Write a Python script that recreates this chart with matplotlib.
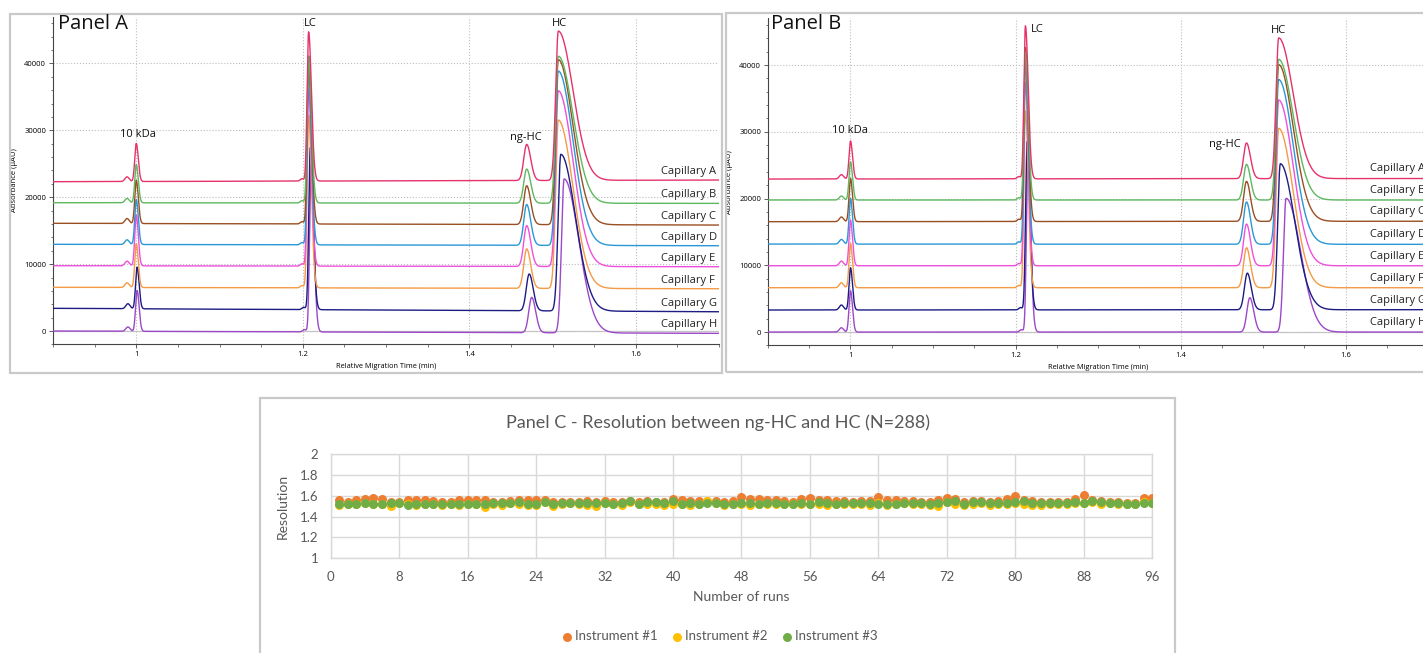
import numpy as np
import matplotlib
matplotlib.use('Agg')
import matplotlib.pyplot as plt
from matplotlib.patches import Rectangle
from matplotlib.ticker import MultipleLocator, FuncFormatter

# ---- data ----
capillaries = ['Capillary A', 'Capillary B', 'Capillary C', 'Capillary D',
               'Capillary E', 'Capillary F', 'Capillary G', 'Capillary H']
trace_colors = ['#E5336A', '#5DB85F', '#9A4F22', '#2A98D6',
                '#EE50DC', '#F59A45', '#1C1C84', '#9C48C8']

# Panel A: baseline (start / end) and peaks (position, height above baseline)
a_base_start = [22320, 19180, 16100, 12960, 9760, 6530, 3390, 0]
a_base_end = [22570, 19080, 15840, 12750, 9610, 6320, 2880, -350]
a_pre_pos = [0.989, 0.989, 0.989, 0.989, 0.989, 0.989, 0.990, 0.990]
a_pre_h = [700, 650, 750, 700, 700, 700, 750, 650]
a_kda_pos = [1.000, 1.000, 1.000, 1.000, 1.000, 1.000, 1.001, 1.001]
a_kda_h = [5700, 5730, 6480, 6730, 7600, 6580, 6230, 6130]
a_lc_pos = [1.207, 1.207, 1.207, 1.207, 1.207, 1.207, 1.209, 1.210]
a_lc_h = [22300, 21900, 25100, 26000, 26400, 25800, 24200, 25000]
a_nghc_pos = [1.469, 1.469, 1.469, 1.469, 1.469, 1.469, 1.472, 1.475]
a_nghc_h = [5400, 5100, 5800, 6100, 6100, 5900, 5500, 5280]
a_hc_pos = [1.507, 1.507, 1.507, 1.507, 1.507, 1.507, 1.510, 1.514]
a_hc_h = [22320, 21970, 24660, 26050, 26260, 25160, 23410, 23000]

# Panel B
b_base_start = [22920, 19780, 16530, 13180, 9930, 6640, 3300, 0]
b_base_end = [23000, 19780, 16600, 13140, 9930, 6640, 3350, 0]
b_pre_pos = [0.989, 0.989, 0.989, 0.989, 0.989, 0.989, 0.989, 0.989]
b_pre_h = [650, 600, 700, 700, 700, 750, 750, 650]
b_kda_pos = [1.000, 1.000, 1.000, 1.000, 1.000, 1.000, 1.000, 1.000]
b_kda_h = [5690, 5730, 6500, 6850, 6850, 6650, 6330, 6190]
b_lc_pos = [1.212, 1.212, 1.212, 1.212, 1.212, 1.212, 1.214, 1.215]
b_lc_h = [22920, 22200, 26060, 27160, 27420, 26470, 25210, 26000]
b_nghc_pos = [1.480, 1.480, 1.480, 1.480, 1.480, 1.480, 1.481, 1.484]
b_nghc_h = [5350, 5340, 5990, 6340, 6250, 5990, 5490, 5140]
b_hc_pos = [1.519, 1.519, 1.519, 1.519, 1.519, 1.519, 1.521, 1.528]
b_hc_h = [21080, 21070, 23470, 24680, 24830, 23880, 21870, 20030]
pre_lc_h = 350

# peak widths (left sigma, right sigma) in min
PRE_W = (0.0025, 0.0025)
KDA_W = (0.0018, 0.0024)
PRELC_W = (0.0020, 0.0020)
LC_W = (0.0018, 0.0034)
NGHC_W = (0.0035, 0.0048)
HC_W = (0.0032, 0.0175)

peak_labels = ['10 kDa', 'LC', 'ng-HC', 'HC']

# Panel C: resolution per run
runs = list(range(1, 97))
inst1 = [1.56, 1.54, 1.56, 1.57, 1.58, 1.57, 1.54, 1.54, 1.56, 1.56, 1.56, 1.55,
         1.54, 1.54, 1.56, 1.56, 1.56, 1.56, 1.54, 1.54, 1.55, 1.56, 1.56, 1.56,
         1.56, 1.54, 1.54, 1.54, 1.54, 1.55, 1.54, 1.55, 1.54, 1.54, 1.55, 1.54,
         1.55, 1.54, 1.54, 1.57, 1.56, 1.55, 1.55, 1.55, 1.55, 1.54, 1.55, 1.59,
         1.57, 1.57, 1.56, 1.56, 1.55, 1.54, 1.57, 1.58, 1.56, 1.56, 1.55, 1.55,
         1.54, 1.55, 1.55, 1.59, 1.56, 1.56, 1.55, 1.55, 1.54, 1.54, 1.56, 1.58,
         1.57, 1.54, 1.55, 1.55, 1.54, 1.55, 1.57, 1.60, 1.56, 1.55, 1.54, 1.54,
         1.54, 1.54, 1.57, 1.61, 1.56, 1.55, 1.54, 1.54, 1.53, 1.53, 1.58, 1.58]
inst2 = [1.51, 1.52, 1.52, 1.53, 1.52, 1.52, 1.50, 1.53, 1.52, 1.51, 1.52, 1.52,
         1.51, 1.52, 1.51, 1.52, 1.52, 1.49, 1.52, 1.51, 1.53, 1.52, 1.51, 1.51,
         1.54, 1.50, 1.52, 1.53, 1.52, 1.51, 1.50, 1.53, 1.52, 1.51, 1.54, 1.52,
         1.52, 1.52, 1.51, 1.52, 1.52, 1.51, 1.52, 1.55, 1.53, 1.51, 1.52, 1.52,
         1.51, 1.52, 1.52, 1.52, 1.52, 1.52, 1.52, 1.52, 1.52, 1.51, 1.52, 1.52,
         1.52, 1.52, 1.51, 1.53, 1.51, 1.52, 1.53, 1.52, 1.52, 1.51, 1.50, 1.54,
         1.52, 1.51, 1.52, 1.53, 1.51, 1.52, 1.52, 1.53, 1.52, 1.51, 1.51, 1.52,
         1.52, 1.52, 1.53, 1.53, 1.54, 1.52, 1.53, 1.52, 1.52, 1.52, 1.54, 1.53]
inst3 = [1.52, 1.52, 1.52, 1.53, 1.52, 1.52, 1.53, 1.53, 1.51, 1.52, 1.52, 1.52,
         1.52, 1.52, 1.52, 1.52, 1.52, 1.52, 1.53, 1.53, 1.53, 1.54, 1.52, 1.52,
         1.54, 1.52, 1.53, 1.53, 1.53, 1.53, 1.53, 1.53, 1.52, 1.53, 1.55, 1.52,
         1.54, 1.54, 1.53, 1.55, 1.52, 1.53, 1.52, 1.53, 1.53, 1.52, 1.52, 1.53,
         1.53, 1.52, 1.53, 1.53, 1.52, 1.52, 1.53, 1.52, 1.54, 1.53, 1.52, 1.53,
         1.53, 1.53, 1.53, 1.52, 1.52, 1.52, 1.53, 1.53, 1.53, 1.52, 1.53, 1.54,
         1.55, 1.52, 1.54, 1.54, 1.53, 1.53, 1.53, 1.54, 1.55, 1.53, 1.53, 1.53,
         1.53, 1.53, 1.54, 1.53, 1.55, 1.54, 1.53, 1.53, 1.52, 1.52, 1.53, 1.53]
instruments = ['Instrument #1', 'Instrument #2', 'Instrument #3']
inst_colors = ['#ED7D31', '#FFC000', '#70AD47']

# ---- layout helpers (pixel -> figure fraction) ----
W, H = 1423, 653


def fx(px):
    return px / W


def fy(py):
    return 1 - py / H


def trace(x, b0, b1, peaks):
    y = b0 + (b1 - b0) * (x - x[0]) / (x[-1] - x[0])
    for mu, h, (sl, sr) in peaks:
        s = np.where(x < mu, sl, sr)
        y = y + h * np.exp(-0.5 * ((x - mu) / s) ** 2)
    return y


TXT = ['Open Sans', 'DejaVu Sans']
CAL = ['Lato', 'DejaVu Sans']

fig = plt.figure(figsize=(14.23, 6.53), dpi=100)

# panel frames
for (x0, y0, x1, y1) in [(10, 14, 722, 373), (726, 13, 1440, 372), (260, 398, 1175, 670)]:
    fig.patches.append(Rectangle((fx(x0), fy(y1)), fx(x1 - x0), (y1 - y0) / H,
                                 transform=fig.transFigure, fill=False,
                                 ec='#C9C9C9', lw=1.6))

x = np.linspace(0.9, 1.7, 4001)


def electropherogram(ax, base0, base1, pre_pos, pre_h, kda_pos, kda_h, lc_pos, lc_h,
                     ng_pos, ng_h, hc_pos, hc_h, lab_off):
    ax.set_xlim(0.9, 1.7)
    ax.set_ylim(-2000, 47000)
    for i in reversed(range(8)):
        peaks = [(pre_pos[i], pre_h[i], PRE_W), (kda_pos[i], kda_h[i], KDA_W),
                 (lc_pos[i] - 0.008, pre_lc_h, PRELC_W),
                 (lc_pos[i], lc_h[i], LC_W), (ng_pos[i], ng_h[i], NGHC_W),
                 (hc_pos[i], hc_h[i], HC_W)]
        ax.plot(x, trace(x, base0[i], base1[i], peaks), color=trace_colors[i],
                lw=1.0, zorder=3)
        ax.text(1.630, base1[i] + lab_off, capillaries[i], fontsize=8, family=TXT,
                va='center', ha='left', color='#222222', zorder=4)
    ax.axhline(0, color='#C8C8C8', lw=0.9, zorder=1)
    ax.xaxis.set_major_locator(MultipleLocator(0.2))
    ax.xaxis.set_minor_locator(MultipleLocator(0.05))
    ax.yaxis.set_major_locator(MultipleLocator(10000))
    ax.yaxis.set_minor_locator(MultipleLocator(2000))
    ax.xaxis.set_major_formatter(FuncFormatter(lambda v, p: '%g' % round(v, 2)))
    ax.grid(True, which='major', ls=':', color='#BDBDBD', lw=0.8, zorder=0)
    for s in ['top', 'right']:
        ax.spines[s].set_visible(False)
    for s in ['left', 'bottom']:
        ax.spines[s].set_color('#444444')
        ax.spines[s].set_linewidth(0.8)
    ax.tick_params(which='major', length=3, width=0.6, color='#444444',
                   labelsize=5.5, pad=2)
    ax.tick_params(which='minor', length=1.8, width=0.5, color='#444444')
    for t in ax.get_xticklabels() + ax.get_yticklabels():
        t.set_family(TXT)
    ax.set_xlabel('Relative Migration Time (min)', fontsize=5.3, family=TXT, labelpad=3)
    ax.set_ylabel('Absorbance (µAU)', fontsize=5.5, family=TXT, labelpad=4)


# Panel A
axA = fig.add_axes([fx(53), fy(344.4), fx(719 - 53), (344.4 - 16.6) / H])
electropherogram(axA, a_base_start, a_base_end, a_pre_pos, a_pre_h, a_kda_pos, a_kda_h,
                 a_lc_pos, a_lc_h, a_nghc_pos, a_nghc_h, a_hc_pos, a_hc_h, 1300)
for lab, (lx, ly) in zip(peak_labels, [(1.002, 29450), (1.2096, 46040),
                                        (1.4685, 29000), (1.508, 45960)]):
    axA.text(lx, ly, lab, fontsize=8, family=TXT, ha='center', va='center', color='#111111')
fig.text(fx(58), fy(14), 'Panel A', fontsize=14.5, family=TXT, va='top', ha='left',
         color='#111111')

# Panel B
axB = fig.add_axes([fx(768), fy(345.4), fx(660), (345.4 - 18.3) / H])
electropherogram(axB, b_base_start, b_base_end, b_pre_pos, b_pre_h, b_kda_pos, b_kda_h,
                 b_lc_pos, b_lc_h, b_nghc_pos, b_nghc_h, b_hc_pos, b_hc_h, 1450)
for lab, (lx, ly) in zip(peak_labels, [(1.000, 30190), (1.226, 45390),
                                        (1.454, 28090), (1.519, 45170)]):
    axB.text(lx, ly, lab, fontsize=8, family=TXT, ha='center', va='center', color='#111111')
fig.text(fx(771), fy(14), 'Panel B', fontsize=14.5, family=TXT, va='top', ha='left',
         color='#111111')

# Panel C
axC = fig.add_axes([fx(330.7), fy(558.3), fx(1152.3 - 330.7), (558.3 - 454) / H])
for vals, lab, c in zip([inst1, inst2, inst3], instruments, inst_colors):
    axC.scatter(runs, vals, s=42, color=c, linewidths=0, label=lab, zorder=3)
axC.set_xlim(0, 96)
axC.set_ylim(1, 2)
axC.set_xticks(range(0, 97, 8))
axC.set_yticks(np.arange(1, 2.01, 0.2))
axC.yaxis.set_major_formatter(FuncFormatter(lambda v, p: '%g' % round(v, 1)))
axC.grid(True, color='#D9D9D9', lw=1.0, zorder=0)
for s in axC.spines.values():
    s.set_color('#D9D9D9')
    s.set_linewidth(1.0)
axC.tick_params(length=0, labelsize=9.5, colors='#595959', pad=9)
for t in axC.get_xticklabels() + axC.get_yticklabels():
    t.set_family(CAL)
axC.set_xlabel('Number of runs', fontsize=10, family=CAL, color='#595959', labelpad=6)
axC.set_ylabel('Resolution', fontsize=10, family=CAL, color='#595959', labelpad=8)
fig.text(fx(717.5), fy(423), 'Panel C - Resolution between ng-HC and HC (N=288)',
         fontsize=13, family=CAL, color='#595959', ha='center', va='center')
fig.legend(loc='center', bbox_to_anchor=(fx(720), fy(636)), ncol=3, frameon=False,
           handlelength=0.7, handletextpad=0.25, columnspacing=1.1,
           prop={'family': CAL, 'size': 9.5}, labelcolor='#595959', scatterpoints=1)

fig.savefig('out.png', dpi=100)
